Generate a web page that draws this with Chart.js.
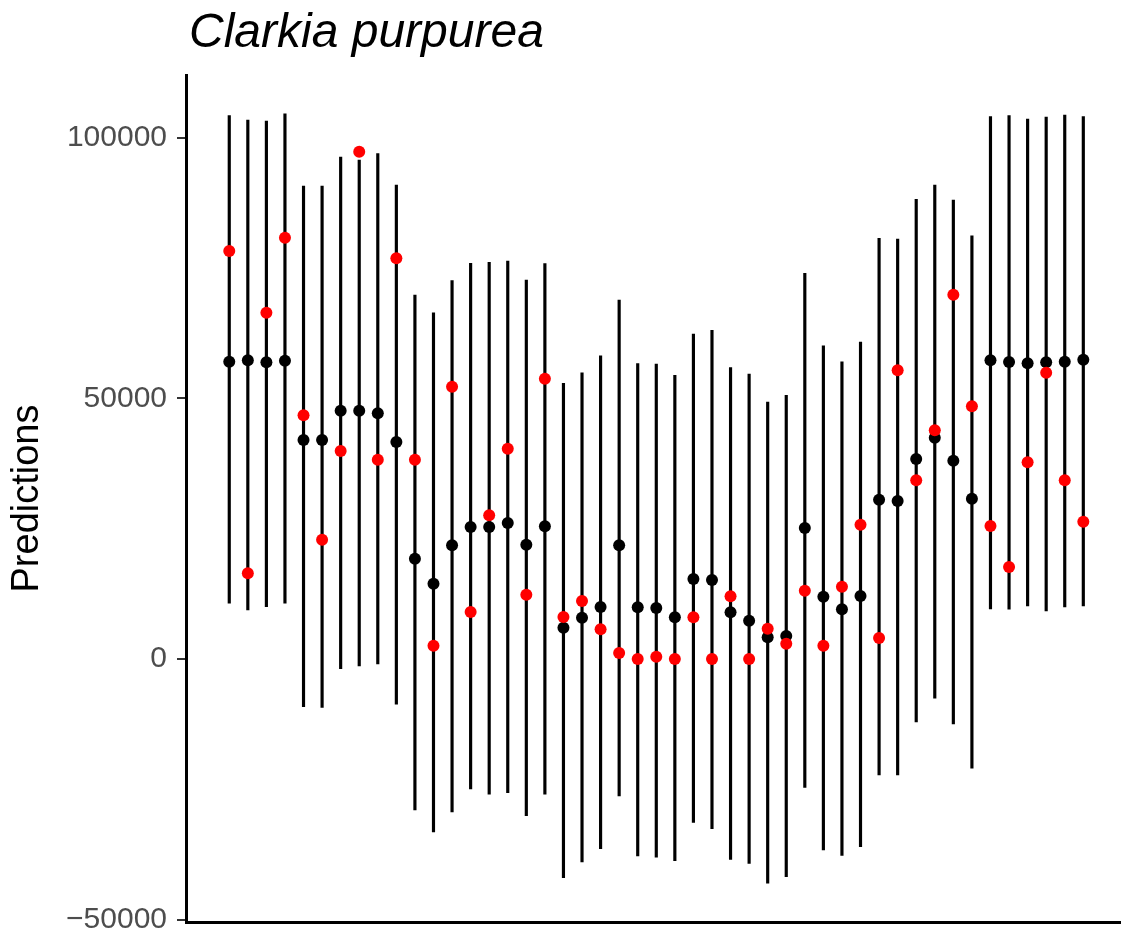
<!DOCTYPE html>
<html>
<head>
<meta charset="utf-8">
<script src="https://cdn.jsdelivr.net/npm/chart.js@4"></script>
<style>
  body { margin: 0; background: #ffffff; }
  canvas { display: block; }
</style>
</head>
<body>
<canvas id="predictions-chart" width="1121" height="936"></canvas>
<script>
"use strict";

const speciesName = 'Clarkia purpurea';

// one entry per site, left to right
const sites = [1, 2, 3, 4, 5, 6, 7, 8, 9, 10, 11, 12, 13, 14, 15, 16, 17, 18, 19, 20,
    21, 22, 23, 24, 25, 26, 27, 28, 29, 30, 31, 32, 33, 34, 35, 36, 37, 38, 39, 40,
    41, 42, 43, 44, 45, 46, 47];

// model prediction (black) and its interval
const predicted = [57050, 57320, 56940, 57240, 42030, 42030, 47650, 47650, 47150, 41640,
    19250, 14450, 21820, 25330, 25330, 26100, 21930, 25460, 6010, 7930,
    9980, 21820, 9920, 9790, 8000, 15350, 15160, 8960, 7350, 4160,
    4410, 25140, 11960, 9540, 12090, 30570, 30320, 38380, 42470, 38030,
    30740, 57320, 56990, 56740, 56940, 57050, 57430];
const lower = [10690, 9400, 10040, 10690, -9150, -9270, -1860, -1340, -960, -8690,
    -28980, -33200, -29360, -24950, -25960, -25660, -30070, -25960, -41970, -38960,
    -36400, -26290, -37800, -38050, -38710, -31340, -32570, -38440, -39210, -43040,
    -41780, -24620, -36650, -37670, -36020, -22260, -22260, -12090, -7540, -12470,
    -20970, 9600, 9540, 10170, 9210, 9980, 10170];
const upper = [104260, 103430, 103240, 104640, 90770, 90770, 96330, 95760, 96970, 90960,
    69850, 66450, 72600, 75930, 76130, 76380, 72730, 75860, 52910, 54940,
    58200, 68890, 56670, 56610, 54440, 62370, 63080, 55900, 54690, 49320,
    50600, 74020, 60120, 57050, 60830, 80730, 80600, 88220, 90960, 88080,
    81230, 104070, 104260, 103630, 104010, 104390, 104070];

// observed counts (red)
const observed = [78300, 16450, 66450, 80850, 46770, 22890, 39920, 97350, 38250, 76890,
    38250, 2550, 52250, 9020, 27600, 40360, 12340, 53790, 8060, 11130,
    5700, 1150, 0, 440, 0, 8000, 0, 12030, 0, 5810,
    2940, 13110, 2550, 13870, 25770, 4030, 55400, 34310, 43890, 69910,
    48490, 25520, 17650, 37750, 54940, 34310, 26350];

const yTicks = [-50000, 0, 50000, 100000];

const fontFamily = '"Liberation Sans", Arial, Helvetica, sans-serif';

// italic species name sitting above the panel
const speciesTitle = {
    id: 'speciesTitle',
    afterDraw(chart) {
        const ctx = chart.ctx;
        ctx.save();
        ctx.font = 'italic 48px ' + fontFamily;
        ctx.fillStyle = '#000000';
        ctx.textBaseline = 'alphabetic';
        ctx.textAlign = 'left';
        ctx.fillText(speciesName, chart.chartArea.left + 3, 47);
        ctx.restore();
    }
};

let intervals = [];
let predictedPoints = [];
let observedPoints = [];
for (let i = 0; i < sites.length; i++) {
    intervals.push({x: sites[i], y: [lower[i], upper[i]]});
    predictedPoints.push({x: sites[i], y: predicted[i]});
    observedPoints.push({x: sites[i], y: observed[i]});
}

let predictionsChart = new Chart(document.getElementById('predictions-chart').getContext('2d'), {
    type: 'bar',
    data: {
        datasets: [{
            type: 'scatter',
            label: 'Observed',
            data: observedPoints,
            backgroundColor: '#ff0000',
            borderWidth: 0,
            pointRadius: 6,
            order: 0
        }, {
            type: 'scatter',
            label: 'Predicted',
            data: predictedPoints,
            backgroundColor: '#000000',
            borderWidth: 0,
            pointRadius: 6,
            order: 1
        }, {
            type: 'bar',
            label: 'Interval',
            data: intervals,
            backgroundColor: '#000000',
            barThickness: 2.5,
            order: 2
        }]
    },
    options: {
        responsive: false,
        animation: false,
        devicePixelRatio: 1,
        layout: {
            autoPadding: false,
            padding: {top: 75, left: 0, right: 0, bottom: 0}
        },
        plugins: {
            legend: {display: false},
            tooltip: {enabled: false},
            title: {display: false}
        },
        scales: {
            x: {
                type: 'linear',
                min: -1.33,
                max: 49.03,
                offset: false,
                ticks: {display: false},
                grid: {display: false},
                border: {display: true, color: '#000000', width: 3},
                afterFit: function (scale) {
                    scale.height = 14;
                    scale.paddingLeft = 0;
                    scale.paddingRight = 0;
                }
            },
            y: {
                type: 'linear',
                min: -50470,
                max: 112070,
                afterBuildTicks: function (scale) {
                    scale.ticks = yTicks.map(v => ({value: v}));
                },
                afterFit: function (scale) {
                    scale.width = 186;
                    scale.paddingTop = 0;
                    scale.paddingBottom = 0;
                },
                ticks: {
                    callback: v => String(v).replace('-', '\u2212'),
                    color: '#4d4d4d',
                    font: {size: 30, family: fontFamily},
                    padding: 10
                },
                grid: {
                    drawOnChartArea: false,
                    drawTicks: true,
                    tickLength: 9,
                    color: '#333333',
                    lineWidth: 2
                },
                border: {display: true, color: '#000000', width: 3},
                title: {
                    display: true,
                    text: 'Predictions',
                    color: '#000000',
                    font: {size: 38, family: fontFamily},
                    padding: {top: 5, bottom: 0}
                }
            }
        }
    },
    plugins: [speciesTitle]
});
</script>
</body>
</html>
